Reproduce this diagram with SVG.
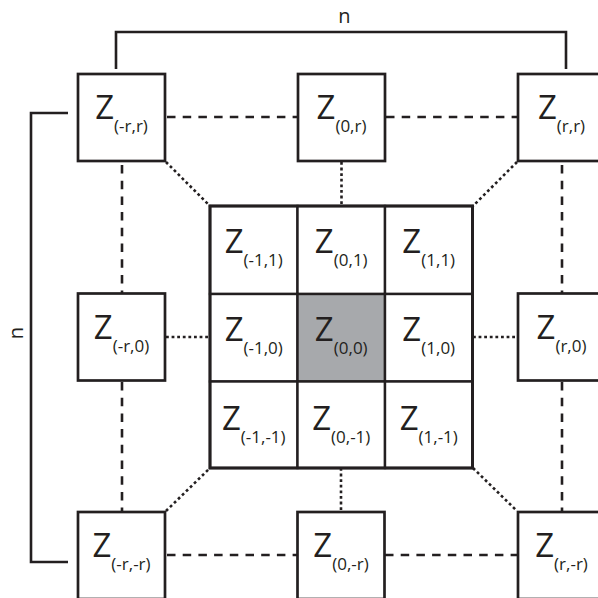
<svg xmlns="http://www.w3.org/2000/svg" width="598" height="598" viewBox="0 0 598 598">
<style>
.box{fill:#ffffff;stroke:#231f20;stroke-width:2.7}
.cell{fill:#ffffff;stroke:#231f20;stroke-width:2.4}
.gray{fill:#a7a9ac}
.lbl{font-family:"Open Sans","Noto Sans",sans-serif;font-size:33px;fill:#231f20;text-anchor:middle}
.sub{font-size:17px}
.dash{stroke:#231f20;stroke-width:2.6;stroke-dasharray:8.5 7.2;fill:none}
.dot{stroke:#231f20;stroke-width:2.6;stroke-dasharray:2.8 2.8;fill:none}
.br{stroke:#231f20;stroke-width:2.6;fill:none}
.n{font-family:"Open Sans","Noto Sans",sans-serif;font-size:20px;fill:#231f20;text-anchor:middle}
</style>
<rect width="598" height="598" fill="#ffffff"/>
<g id="connectors">
<line class="dash" x1="167" y1="117" x2="298" y2="117"/>
<line class="dash" x1="386" y1="117" x2="518" y2="117"/>
<line class="dash" x1="167" y1="555" x2="297" y2="555"/>
<line class="dash" x1="385" y1="555" x2="518" y2="555"/>
<line class="dash" x1="122" y1="165" x2="122" y2="293"/>
<line class="dash" x1="122" y1="382" x2="122" y2="512"/>
<line class="dash" x1="562" y1="165" x2="562" y2="293"/>
<line class="dash" x1="562" y1="382" x2="562" y2="512"/>
<line class="dot" x1="166" y1="162" x2="210" y2="206"/>
<line class="dot" x1="341.5" y1="162" x2="341.5" y2="206"/>
<line class="dot" x1="517" y1="162" x2="473" y2="206"/>
<line class="dot" x1="166" y1="337" x2="210" y2="337"/>
<line class="dot" x1="473" y1="337" x2="518" y2="337"/>
<line class="dot" x1="166" y1="511" x2="210" y2="468"/>
<line class="dot" x1="341" y1="468" x2="341" y2="512"/>
<line class="dot" x1="473" y1="468" x2="517" y2="511"/>
<polyline class="br" points="116,69 116,32 566,32 566,69"/>
<polyline class="br" points="68,113 31,113 31,562 68,562"/>
</g>
<text class="n" x="344.5" y="22.5">n</text>
<text class="n" transform="translate(22.5,333) rotate(-90)">n</text>
<g id="node-mrr"><rect class="box" x="78" y="74" width="87" height="87"/><text class="lbl" x="121.5" y="118.5">Z<tspan class="sub" dy="13">(-r,r)</tspan></text></g>
<g id="node-0r"><rect class="box" x="298" y="74" width="87" height="87"/><text class="lbl" x="341.5" y="118.5">Z<tspan class="sub" dy="13">(0,r)</tspan></text></g>
<g id="node-rr"><rect class="box" x="518" y="74" width="87" height="87"/><text class="lbl" x="561.5" y="118.5">Z<tspan class="sub" dy="13">(r,r)</tspan></text></g>
<g id="node-mr0"><rect class="box" x="78" y="293.5" width="87" height="87"/><text class="lbl" x="121.5" y="339">Z<tspan class="sub" dy="13">(-r,0)</tspan></text></g>
<g id="node-r0"><rect class="box" x="518" y="293.5" width="87" height="87"/><text class="lbl" x="561.5" y="339">Z<tspan class="sub" dy="13">(r,0)</tspan></text></g>
<g id="node-mrmr"><rect class="box" x="78" y="512" width="87" height="87"/><text class="lbl" x="121.5" y="557">Z<tspan class="sub" dy="13">(-r,-r)</tspan></text></g>
<g id="node-0mr"><rect class="box" x="297.5" y="512" width="87" height="87"/><text class="lbl" x="341" y="557">Z<tspan class="sub" dy="13">(0,-r)</tspan></text></g>
<g id="node-rmr"><rect class="box" x="518" y="512" width="87" height="87"/><text class="lbl" x="561.5" y="557">Z<tspan class="sub" dy="13">(r,-r)</tspan></text></g>
<g id="node-m11"><rect class="cell" x="210" y="206" width="87.5" height="88"/><text class="lbl" x="253.75" y="253">Z<tspan class="sub" dy="13">(-1,1)</tspan></text></g>
<g id="node-01"><rect class="cell" x="297.5" y="206" width="87.5" height="88"/><text class="lbl" x="341.25" y="253">Z<tspan class="sub" dy="13">(0,1)</tspan></text></g>
<g id="node-11"><rect class="cell" x="385" y="206" width="87.5" height="88"/><text class="lbl" x="428.75" y="253">Z<tspan class="sub" dy="13">(1,1)</tspan></text></g>
<g id="node-m10"><rect class="cell" x="210" y="294" width="87.5" height="87.5"/><text class="lbl" x="253.75" y="340.5">Z<tspan class="sub" dy="13">(-1,0)</tspan></text></g>
<g id="node-00"><rect class="cell gray" x="297.5" y="294" width="87.5" height="87.5"/><text class="lbl" x="341.25" y="340.5">Z<tspan class="sub" dy="13">(0,0)</tspan></text></g>
<g id="node-10"><rect class="cell" x="385" y="294" width="87.5" height="87.5"/><text class="lbl" x="428.75" y="340.5">Z<tspan class="sub" dy="13">(1,0)</tspan></text></g>
<g id="node-m1m1"><rect class="cell" x="210" y="381.5" width="87.5" height="86.5"/><text class="lbl" x="253.75" y="430">Z<tspan class="sub" dy="13">(-1,-1)</tspan></text></g>
<g id="node-0m1"><rect class="cell" x="297.5" y="381.5" width="87.5" height="86.5"/><text class="lbl" x="341.25" y="430">Z<tspan class="sub" dy="13">(0,-1)</tspan></text></g>
<g id="node-1m1"><rect class="cell" x="385" y="381.5" width="87.5" height="86.5"/><text class="lbl" x="428.75" y="430">Z<tspan class="sub" dy="13">(1,-1)</tspan></text></g>
<rect x="210" y="206" width="262.5" height="262" fill="none" stroke="#231f20" stroke-width="3"/>
</svg>
